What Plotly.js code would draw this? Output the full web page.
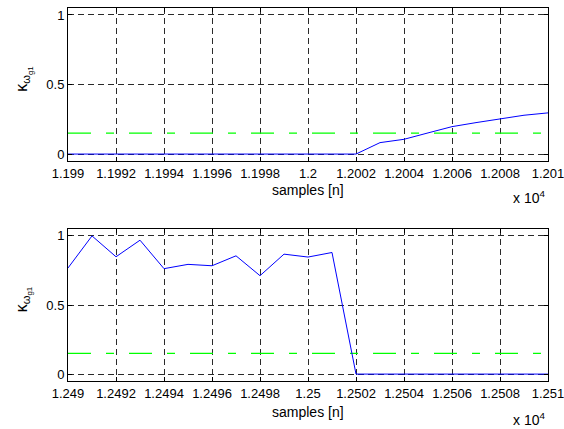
<!DOCTYPE html>
<html>
<head>
<meta charset="utf-8">
<script src="https://cdn.plot.ly/plotly-3.0.1.min.js"></script>
<style>
  html, body { margin: 0; padding: 0; background: #ffffff; }
  #chart { width: 564px; height: 429px; }
</style>
</head>
<body>
<div id="chart"></div>
<script>
// Window 1: samples around 1.2e4
const samplesA = [11990, 11991, 11992, 11993, 11994, 11995, 11996, 11997, 11998, 11999, 12000,
                  12001, 12002, 12003, 12004, 12005, 12006, 12007, 12008, 12009, 12010];
const kappaA = [0, 0, 0, 0, 0, 0, 0, 0, 0, 0, 0,
                0, 0, 0.082, 0.106, 0.152, 0.197, 0.226, 0.25, 0.279, 0.296];

// Window 2: samples around 1.25e4
const samplesB = [12490, 12491, 12492, 12493, 12494, 12495, 12496, 12497, 12498, 12499, 12500,
                  12501, 12502, 12503, 12504, 12505, 12506, 12507, 12508, 12509, 12510];
const kappaB = [0.768, 1.0, 0.849, 0.969, 0.763, 0.794, 0.784, 0.856, 0.712, 0.868, 0.847,
                0.88, 0, 0, 0, 0, 0, 0, 0, 0, 0];

// Detection threshold
const threshold = 0.15;

// Tick positions and labels (x axis shown in units of 10^4)
const tickValsA = [11990, 11992, 11994, 11996, 11998, 12000, 12002, 12004, 12006, 12008, 12010];
const tickTextA = ['1.199', '1.1992', '1.1994', '1.1996', '1.1998', '1.2', '1.2002', '1.2004', '1.2006', '1.2008', '1.201'];
const tickValsB = [12490, 12492, 12494, 12496, 12498, 12500, 12502, 12504, 12506, 12508, 12510];
const tickTextB = ['1.249', '1.2492', '1.2494', '1.2496', '1.2498', '1.25', '1.2502', '1.2504', '1.2506', '1.2508', '1.251'];
const yTicks = [0, 0.5, 1];
const yTickText = ['0', '0.5', '1'];

const FONT = 'Liberation Sans, Arial, Helvetica, sans-serif';
const GRID = '#2a2a2a';

function kappaTrace(x, y, xa, ya) {
  return { x: x, y: y, xaxis: xa, yaxis: ya, type: 'scatter', mode: 'lines',
           line: { color: '#0000ff', width: 1 }, hoverinfo: 'skip', showlegend: false };
}
function thresholdTrace(x, xa, ya) {
  return { x: [x[0], x[x.length - 1]], y: [threshold, threshold], xaxis: xa, yaxis: ya,
           type: 'scatter', mode: 'lines',
           line: { color: '#00ff00', width: 1.3, dash: '23px,15px,8px,15px' },
           hoverinfo: 'skip', showlegend: false };
}

const data = [
  thresholdTrace(samplesA, 'x', 'y'),
  kappaTrace(samplesA, kappaA, 'x', 'y'),
  thresholdTrace(samplesB, 'x2', 'y2'),
  kappaTrace(samplesB, kappaB, 'x2', 'y2')
];

function xAxis(vals, text, anchor) {
  return {
    anchor: anchor, domain: [0, 1], range: [vals[0], vals[vals.length - 1]],
    tickmode: 'array', tickvals: vals, ticktext: text,
    ticks: 'inside', ticklen: 4, tickcolor: '#000', mirror: 'ticks',
    showline: true, linecolor: '#000', linewidth: 1,
    showgrid: true, gridcolor: GRID, gridwidth: 1, griddash: '6px,4px',
    zeroline: false, tickfont: { family: FONT, size: 13, color: '#000' },
    ticklabeloverflow: 'allow', automargin: false
  };
}
function yAxis(domain, anchor) {
  return {
    anchor: anchor, domain: domain, range: [-0.05, 1.05],
    tickmode: 'array', tickvals: yTicks, ticktext: yTickText,
    ticks: 'inside', ticklen: 4, tickcolor: '#000', mirror: 'ticks',
    showline: true, linecolor: '#000', linewidth: 1,
    showgrid: true, gridcolor: GRID, gridwidth: 1, griddash: '6px,4px',
    zeroline: false, tickfont: { family: FONT, size: 13, color: '#000' },
    ticklabeloverflow: 'allow', automargin: false
  };
}

const yLabel = 'κ<sub>ω<sub>g1</sub></sub>';
const annFont = { family: FONT, size: 14, color: '#000' };
const labelFont = { family: FONT, size: 16, color: '#000' };

const layout = {
  width: 564, height: 429,
  margin: { l: 68, r: 16, t: 8, b: 48 },
  paper_bgcolor: '#ffffff', plot_bgcolor: '#ffffff',
  showlegend: false,
  xaxis: xAxis(tickValsA, tickTextA, 'y'),
  yaxis: yAxis([0.5898, 1], 'x'),
  xaxis2: xAxis(tickValsB, tickTextB, 'y2'),
  yaxis2: yAxis([0, 0.4075], 'x2'),
  annotations: [
    { xref: 'paper', yref: 'paper', x: 0.5, y: 0.512, text: 'samples [n]', showarrow: false,
      xanchor: 'center', yanchor: 'middle', font: annFont },
    { xref: 'paper', yref: 'paper', x: 0.5, y: -0.083, text: 'samples [n]', showarrow: false,
      xanchor: 'center', yanchor: 'middle', font: annFont },
    { xref: 'paper', yref: 'paper', x: 0.998, y: 0.494, text: 'x 10<sup>4</sup>', showarrow: false,
      xanchor: 'right', yanchor: 'middle', font: annFont },
    { xref: 'paper', yref: 'paper', x: 0.998, y: -0.102, text: 'x 10<sup>4</sup>', showarrow: false,
      xanchor: 'right', yanchor: 'middle', font: annFont },
    { xref: 'paper', yref: 'paper', x: -0.0917, y: 0.81, text: yLabel, showarrow: false,
      textangle: -90, xanchor: 'center', yanchor: 'middle', font: labelFont },
    { xref: 'paper', yref: 'paper', x: -0.0917, y: 0.219, text: yLabel, showarrow: false,
      textangle: -90, xanchor: 'center', yanchor: 'middle', font: labelFont }
  ]
};

Plotly.newPlot('chart', data, layout, { staticPlot: true, displayModeBar: false });
</script>
</body>
</html>
